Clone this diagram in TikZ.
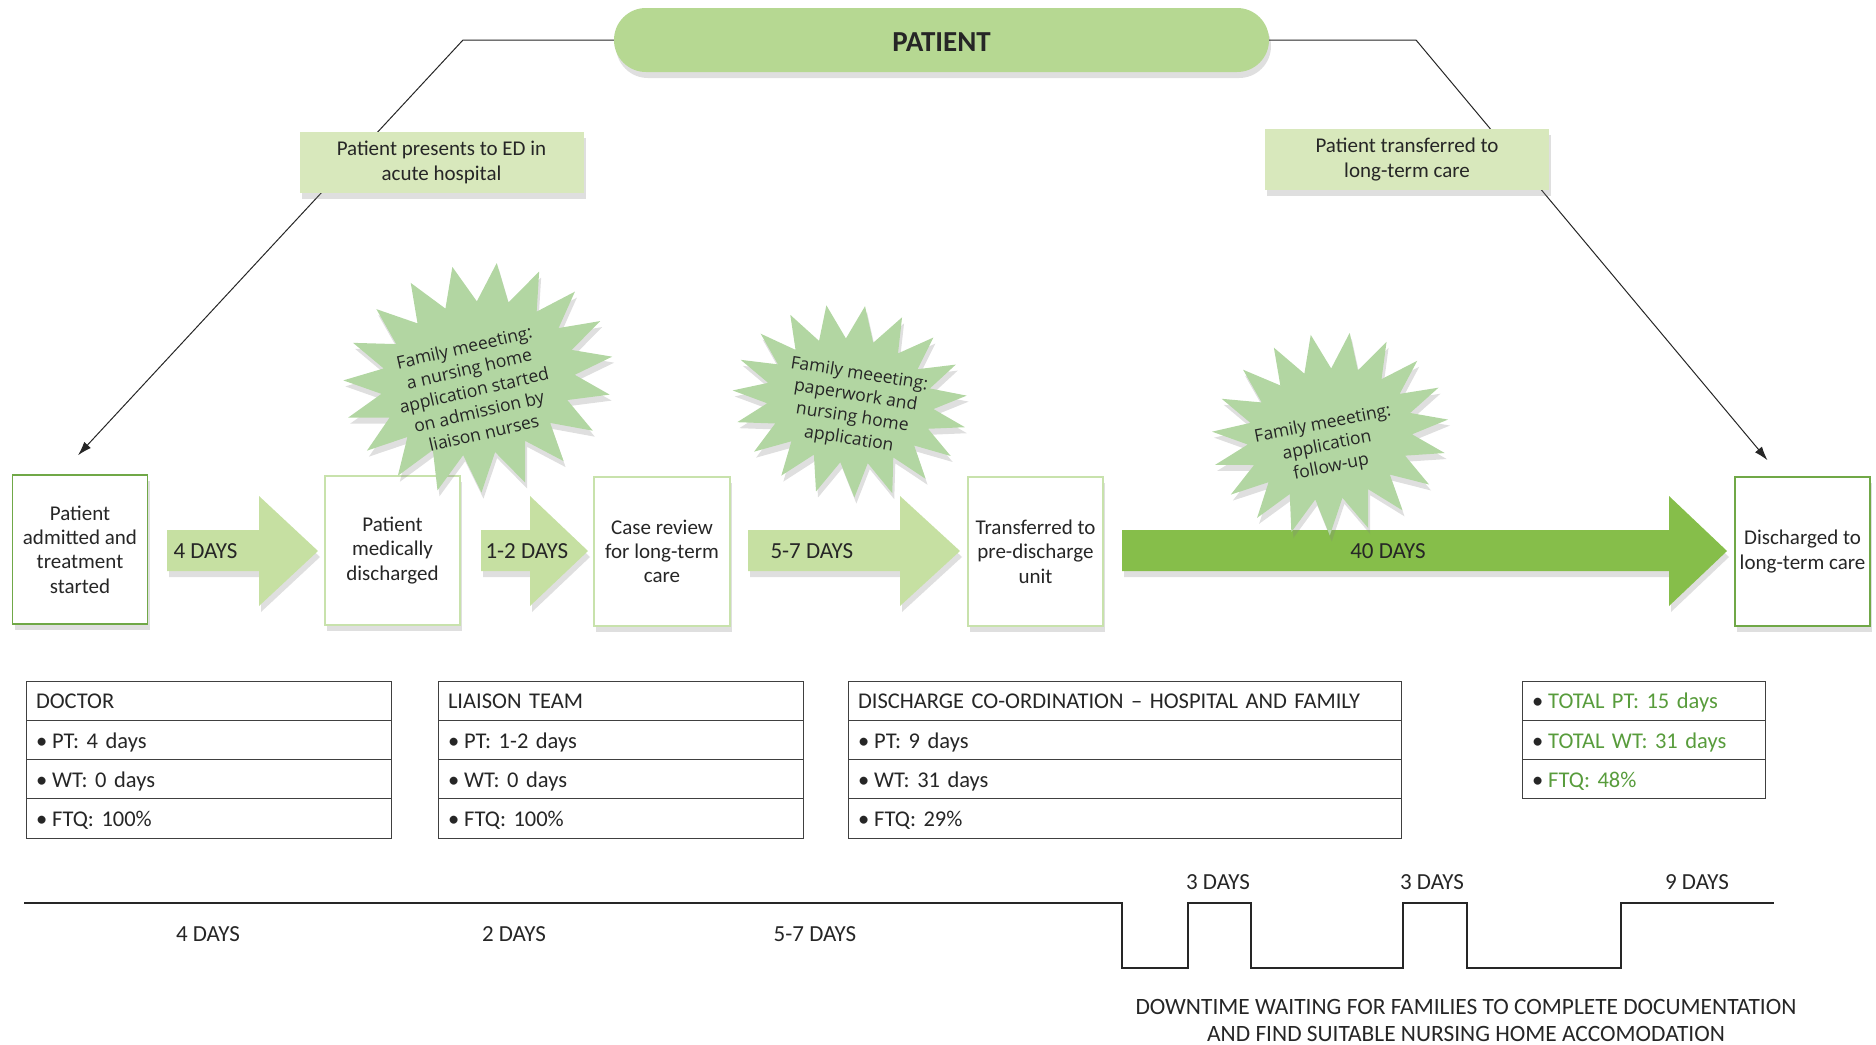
\documentclass[tikz,border=0pt]{standalone}
\usepackage{fontspec}
\setmainfont{Carlito}
\newfontfamily\burstfont{Open Sans}
\usetikzlibrary{arrows.meta}
\usetikzlibrary{positioning}
\usetikzlibrary{shadows}
\usetikzlibrary{shapes.symbols}

\definecolor{pillgreen}{RGB}{182,216,146}
\definecolor{notegreen}{RGB}{216,232,188}
\definecolor{arrowgreen}{RGB}{198,224,162}
\definecolor{darkgreen}{RGB}{134,190,74}
\definecolor{burstgreen}{RGB}{178,214,162}
\definecolor{edgegreen}{RGB}{112,168,71}
\definecolor{paleedge}{RGB}{200,226,172}
\definecolor{totgreen}{RGB}{88,156,60}
\definecolor{ink}{RGB}{38,38,38}

% block arrow: colour, tail x, head base x, tip x
\newcommand{\dayarrow}[4]{\fill[#1, softshadow] (#2,530) -- (#3,530) -- (#3,496) -- (#4,551) -- (#3,606) -- (#3,571) -- (#2,571) -- cycle;}
\newcommand{\bul}{\textbullet\hspace{5pt}}
\newcommand{\tot}[1]{\bul\textcolor{totgreen}{#1}}

\tikzset{
  softshadow/.style={drop shadow={shadow xshift=2pt, shadow yshift=-6pt, opacity=.25}},
  pill/.style={fill=pillgreen, rounded corners=31.9pt, minimum width=655pt, minimum height=64pt, text height=23pt, font=\bfseries\fontsize{29}{32}\selectfont, text=ink, softshadow},
  notebox/.style={fill=notegreen, minimum width=284pt, minimum height=61pt, align=center, text=ink, font=\fontsize{21}{24.3}\selectfont, softshadow},
  stagebox/.style={draw=paleedge, line width=1.5pt, fill=white, minimum width=135pt, minimum height=149pt, inner sep=2pt, align=center, text=ink, font=\fontsize{21}{24.3}\selectfont, softshadow},
  daylabel/.style={text=ink, font=\fontsize{23}{26}\selectfont},
  burst/.style={starburst, fill=burstgreen, starburst points=19, random starburst=0, softshadow},
  bursttext/.style={align=center, text=ink, font=\burstfont\fontsize{17.5}{22}\selectfont},
  cell/.style={draw=black!75, line width=1pt, outer sep=0pt, minimum height=39.3pt, inner xsep=10pt, text width=#1, text height=16.5pt, text depth=0pt, align=left, text=ink, font=\fontsize{22.5}{26}\selectfont},
  link/.style={-{Latex[length=14pt,width=9pt]}, line width=1pt, black!85},
}

\begin{document}
\frenchspacing
\begin{tikzpicture}[x=1pt, y=-1pt]
  \useasboundingbox (0,0) rectangle (1876,1044);

  % top
  \node[pill] (pat) at (941.5,40) {PATIENT};

  % stages
  \node[stagebox, draw=edgegreen] (adm) at (80,549.5) {Patient\\ admitted and\\ treatment\\ started};
  \node[stagebox] (med) at (392.5,550.5) {Patient\\ medically\\ discharged};
  \node[stagebox, minimum width=136pt] (rev) at (662,551.5) {Case review\\ for long-term\\ care};
  \node[stagebox] (pre) at (1035.5,551.5) {Transferred to\\ pre-discharge\\ unit};
  \node[stagebox, draw=edgegreen] (ltc) at (1802.5,551.5) {Discharged to\\ long-term care};

  \coordinate (lbend) at (463,40);
  \coordinate (rbend) at (1416,40);
  \draw[link] (pat.west) -- (lbend) -- ([xshift=-2pt, yshift=19pt]adm.north);
  \draw[link] (pat.east) -- (rbend) -- ([xshift=-35pt, yshift=16pt]ltc.north);

  \node[notebox] (ed) at (441.5,162.5) {Patient presents to ED in\\ acute hospital};
  \node[notebox] (out) at (1407,159.5) {Patient transferred to\\ long-term care};

  % day arrows
  \dayarrow{arrowgreen}{167}{259}{318}
  \dayarrow{arrowgreen}{481}{530}{588}
  \dayarrow{arrowgreen}{748}{900}{960}
  \dayarrow{darkgreen}{1122}{1669}{1727}
  \node[daylabel, anchor=west] (a1) at (170,551) {4 DAYS};
  \node[daylabel, anchor=west] (a2) at (482,551) {1-2 DAYS};
  \node[daylabel, anchor=west] (a3) at (767,551) {5-7 DAYS};
  \node[daylabel] (a4) at (1388,551) {40 DAYS};

  % family meetings
  \node[burst, minimum width=272pt, minimum height=228pt, starburst point height=38pt, rotate=13] (meet1) at (478,378) {};
  \node[bursttext, rotate=13] (meet1txt) at (474,390) {Family meeeting:\\ a nursing home\\ application started\\ on admission by\\ liaison nurses};
  \node[burst, minimum width=236pt, minimum height=192pt, starburst point height=34pt, rotate=-9] (meet2) at (850,401) {};
  \node[bursttext, rotate=-9] (meet2txt) at (854,407) {Family meeeting:\\ paperwork and\\ nursing home\\ application};
  \node[burst, minimum width=238pt, minimum height=202pt, starburst point height=36pt, rotate=11] (meet3) at (1330,434) {};
  \node[bursttext, rotate=11] (meet3txt) at (1327,446) {Family meeeting:\\ application\\ follow-up};

  % tables
  \node[cell=345pt, anchor=north west] (doc) at (26,681) {DOCTOR};
  \node[cell=345pt, below=0pt of doc] (doc1) {\bul PT: 4 days};
  \node[cell=345pt, below=0pt of doc1] (doc2) {\bul WT: 0 days};
  \node[cell=345pt, below=0pt of doc2] (doc3) {\bul FTQ: 100\%};

  \node[cell=345pt, anchor=north west] (lia) at (438,681) {LIAISON TEAM};
  \node[cell=345pt, below=0pt of lia] (lia1) {\bul PT: 1-2 days};
  \node[cell=345pt, below=0pt of lia1] (lia2) {\bul WT: 0 days};
  \node[cell=345pt, below=0pt of lia2] (lia3) {\bul FTQ: 100\%};

  \node[cell=533pt, anchor=north west] (dis) at (848,681) {DISCHARGE CO-ORDINATION -- HOSPITAL AND FAMILY};
  \node[cell=533pt, below=0pt of dis] (dis1) {\bul PT: 9 days};
  \node[cell=533pt, below=0pt of dis1] (dis2) {\bul WT: 31 days};
  \node[cell=533pt, below=0pt of dis2] (dis3) {\bul FTQ: 29\%};

  \node[cell=223pt, anchor=north west] (tot1) at (1522,681) {\tot{TOTAL PT: 15 days}};
  \node[cell=223pt, below=0pt of tot1] (tot2) {\tot{TOTAL WT: 31 days}};
  \node[cell=223pt, below=0pt of tot2] (tot3) {\tot{FTQ: 48\%}};

  % timeline
  \draw[line width=1.6pt, black!85] (24,903) -| (1122,968) -| (1188,903) -| (1251,968) -| (1403,903) -| (1467,968) -| (1621,903) -- (1774,903);
  \node[daylabel] (t1) at (208,934) {4 DAYS};
  \node[daylabel] (t2) at (514,934) {2 DAYS};
  \node[daylabel] (t3) at (815,934) {5-7 DAYS};
  \node[daylabel] (w1) at (1218,882) {3 DAYS};
  \node[daylabel] (w2) at (1432,882) {3 DAYS};
  \node[daylabel] (w3) at (1697,882) {9 DAYS};
  \node[daylabel, align=center, font=\fontsize{23.4}{27}\selectfont] (down) at (1466,1020) {DOWNTIME WAITING FOR FAMILIES TO COMPLETE DOCUMENTATION\\ AND FIND SUITABLE NURSING HOME ACCOMODATION};
\end{tikzpicture}
\end{document}
